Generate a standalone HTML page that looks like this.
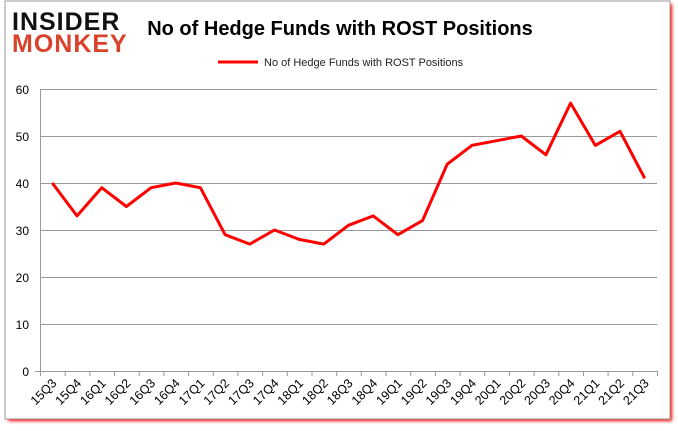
<!DOCTYPE html>
<html><head><style>
body{margin:0;background:#fff;}
svg{display:block;font-family:"Liberation Sans",sans-serif;}
</style></head><body>
<svg width="678" height="431" viewBox="0 0 678 431">
<defs><filter id="sh" x="-5%" y="-5%" width="110%" height="110%"><feGaussianBlur stdDeviation="1.5"/></filter></defs>
<rect x="8" y="4" width="664" height="417" fill="#f00" filter="url(#sh)"/>
<rect x="5" y="1" width="665" height="418" fill="#fff" stroke="#999" stroke-width="1"/>
<text x="12" y="30" font-size="25" font-weight="bold" fill="#111" letter-spacing="1">INSIDER</text>
<text x="12" y="52" font-size="25" font-weight="bold" fill="#d8432c" letter-spacing="1">MONKEY</text>
<text x="340" y="35" font-size="20" font-weight="bold" text-anchor="middle" fill="#000">No of Hedge Funds with ROST Positions</text>
<line x1="218" y1="62" x2="258" y2="62" stroke="#f00" stroke-width="3"/>
<text x="264" y="66" font-size="11" fill="#222">No of Hedge Funds with ROST Positions</text>
<g stroke="#999" stroke-width="1">
<line x1="40" y1="89.5" x2="657" y2="89.5"/><line x1="40" y1="136.5" x2="657" y2="136.5"/>
<line x1="40" y1="183.5" x2="657" y2="183.5"/><line x1="40" y1="230.5" x2="657" y2="230.5"/>
<line x1="40" y1="277.5" x2="657" y2="277.5"/><line x1="40" y1="324.5" x2="657" y2="324.5"/>
<line x1="35" y1="371.5" x2="657" y2="371.5"/>
<line x1="40.5" y1="89" x2="40.5" y2="376"/>
<path d="M40.5 371v5M65.2 371v5M89.9 371v5M114.5 371v5M139.2 371v5M163.9 371v5M188.6 371v5M213.3 371v5M237.9 371v5M262.6 371v5M287.3 371v5M312 371v5M336.7 371v5M361.3 371v5M386 371v5M410.7 371v5M435.4 371v5M460.1 371v5M484.7 371v5M509.4 371v5M534.1 371v5M558.8 371v5M583.5 371v5M608.1 371v5M632.8 371v5M657.5 371v5"/>
</g>
<g font-size="12" fill="#000" text-anchor="end">
<text x="29" y="94">60</text><text x="29" y="141">50</text><text x="29" y="188">40</text>
<text x="29" y="235">30</text><text x="29" y="282">20</text><text x="29" y="329">10</text><text x="29" y="376">0</text>
</g>
<g font-size="12.5" fill="#000" text-anchor="end">
<text transform="translate(57.3 384) rotate(-45)">15Q3</text>
<text transform="translate(82 384) rotate(-45)">15Q4</text>
<text transform="translate(106.7 384) rotate(-45)">16Q1</text>
<text transform="translate(131.4 384) rotate(-45)">16Q2</text>
<text transform="translate(156.1 384) rotate(-45)">16Q3</text>
<text transform="translate(180.7 384) rotate(-45)">16Q4</text>
<text transform="translate(205.4 384) rotate(-45)">17Q1</text>
<text transform="translate(230.1 384) rotate(-45)">17Q2</text>
<text transform="translate(254.8 384) rotate(-45)">17Q3</text>
<text transform="translate(279.5 384) rotate(-45)">17Q4</text>
<text transform="translate(304.1 384) rotate(-45)">18Q1</text>
<text transform="translate(328.8 384) rotate(-45)">18Q2</text>
<text transform="translate(353.5 384) rotate(-45)">18Q3</text>
<text transform="translate(378.2 384) rotate(-45)">18Q4</text>
<text transform="translate(402.9 384) rotate(-45)">19Q1</text>
<text transform="translate(427.5 384) rotate(-45)">19Q2</text>
<text transform="translate(452.2 384) rotate(-45)">19Q3</text>
<text transform="translate(476.9 384) rotate(-45)">19Q4</text>
<text transform="translate(501.6 384) rotate(-45)">20Q1</text>
<text transform="translate(526.3 384) rotate(-45)">20Q2</text>
<text transform="translate(550.9 384) rotate(-45)">20Q3</text>
<text transform="translate(575.6 384) rotate(-45)">20Q4</text>
<text transform="translate(600.3 384) rotate(-45)">21Q1</text>
<text transform="translate(625 384) rotate(-45)">21Q2</text>
<text transform="translate(649.7 384) rotate(-45)">21Q3</text>
</g>
<polyline fill="none" stroke="#f00" stroke-width="3" stroke-linejoin="round" points="52.3,183 77,215.9 101.7,187.7 126.4,206.5 151.1,187.7 175.7,183 200.4,187.7 225.1,234.7 249.8,244.1 274.5,230 299.1,239.4 323.8,244.1 348.5,225.3 373.2,215.9 397.9,234.7 422.5,220.6 447.2,164.2 471.9,145.4 496.6,140.7 521.3,136 545.9,154.8 570.6,103.1 595.3,145.4 620,131.3 644.7,178.3"/>
</svg>
</body></html>
